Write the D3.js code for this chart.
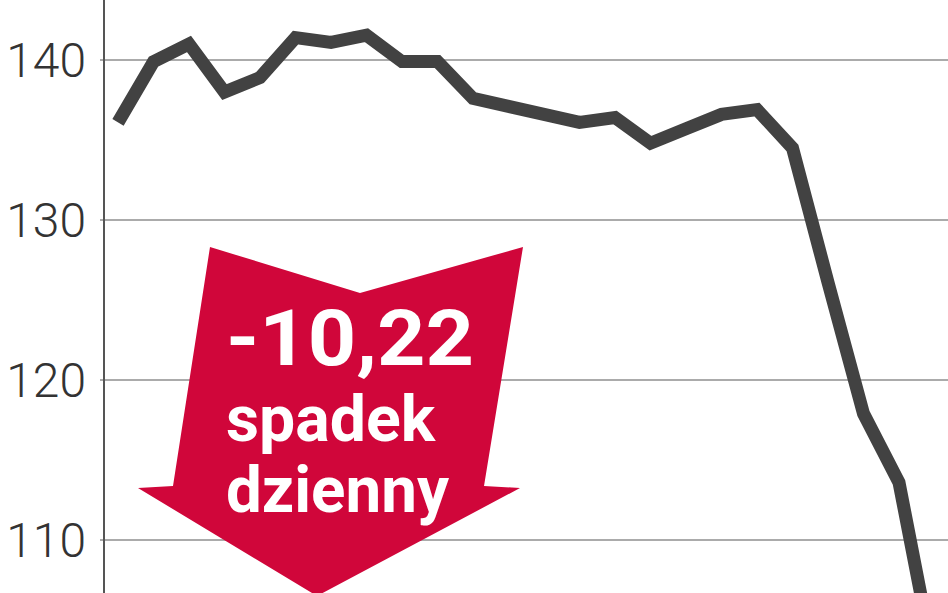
<!DOCTYPE html>
<html>
<head>
<meta charset="utf-8">
<script src="https://cdn.jsdelivr.net/npm/d3@7"></script>
<style>
  html, body { margin: 0; padding: 0; background: #fff; overflow: hidden; }
  svg { display: block; }
</style>
</head>
<body>
<svg id="chart"></svg>
<script>
// kurs z ostatnich sesji (odczyt z wykresu)
const sessions = d3.range(24)
const prices = [
  136.1, 139.9, 141.0, 138.0, 138.9, 141.4, 141.1, 141.55, 139.9, 139.9,
  137.6, 137.1, 136.6, 136.1, 136.4, 134.8, 135.7, 136.6, 136.9, 134.5,
  126.1, 117.9, 113.6, 102.2
]
const yTicks = [110, 120, 130, 140]
const calloutLines = ['-10,22', 'spadek', 'dzienny']

const width = 948
const height = 593

const svg = d3.select('#chart')
  .attr('width', width)
  .attr('height', height)
  .attr('viewBox', `0 0 ${width} ${height}`)

const x = d3.scaleLinear().domain([0, 23]).range([118, 934.5])
const y = d3.scaleLinear().domain([110, 140]).range([540, 60])

// gridlines
svg.append('g')
  .selectAll('line')
  .data(yTicks)
  .join('line')
  .attr('x1', 100)
  .attr('x2', width)
  .attr('y1', d => y(d))
  .attr('y2', d => y(d))
  .attr('stroke', '#ababab')
  .attr('stroke-width', 2)

// y axis line
svg.append('line')
  .attr('x1', 104).attr('x2', 104)
  .attr('y1', 0).attr('y2', height)
  .attr('stroke', '#555')
  .attr('stroke-width', 2)

// tick labels
svg.append('g')
  .selectAll('text')
  .data(yTicks)
  .join('text')
  .attr('x', 86)
  .attr('y', d => y(d))
  .attr('dy', '0.35em')
  .attr('text-anchor', 'end')
  .attr('fill', '#333')
  .attr('font-family', 'Roboto, sans-serif')
  .attr('font-weight', 300)
  .attr('font-size', 48)
  .text(d => d)

// red arrow callout
const arrow = [
  [210, 247], [360, 293], [523, 247], [484, 486], [520, 488],
  [317, 596], [138, 488], [173, 486]
]
svg.append('path')
  .attr('d', d3.line()(arrow) + 'Z')
  .attr('fill', '#d0063a')

const calloutStyle = [
  { y: 365, size: 78, len: 248 },
  { y: 441, size: 65, len: 209 },
  { y: 512, size: 65, len: 223 }
]
svg.append('g')
  .selectAll('text')
  .data(calloutLines)
  .join('text')
  .attr('x', 226)
  .attr('y', (_, i) => calloutStyle[i].y)
  .attr('fill', '#fff')
  .attr('font-family', 'Roboto, sans-serif')
  .attr('font-weight', 700)
  .attr('font-size', (_, i) => calloutStyle[i].size)
  .attr('textLength', (_, i) => calloutStyle[i].len)
  .attr('lengthAdjust', 'spacingAndGlyphs')
  .text(d => d)

// price line
const line = d3.line()
  .x((d, i) => x(sessions[i]))
  .y(d => y(d))

svg.append('path')
  .datum(prices)
  .attr('d', line)
  .attr('fill', 'none')
  .attr('stroke', '#424242')
  .attr('stroke-width', 13)
  .attr('stroke-linejoin', 'miter')
  .attr('stroke-miterlimit', 3)
</script>
</body>
</html>
